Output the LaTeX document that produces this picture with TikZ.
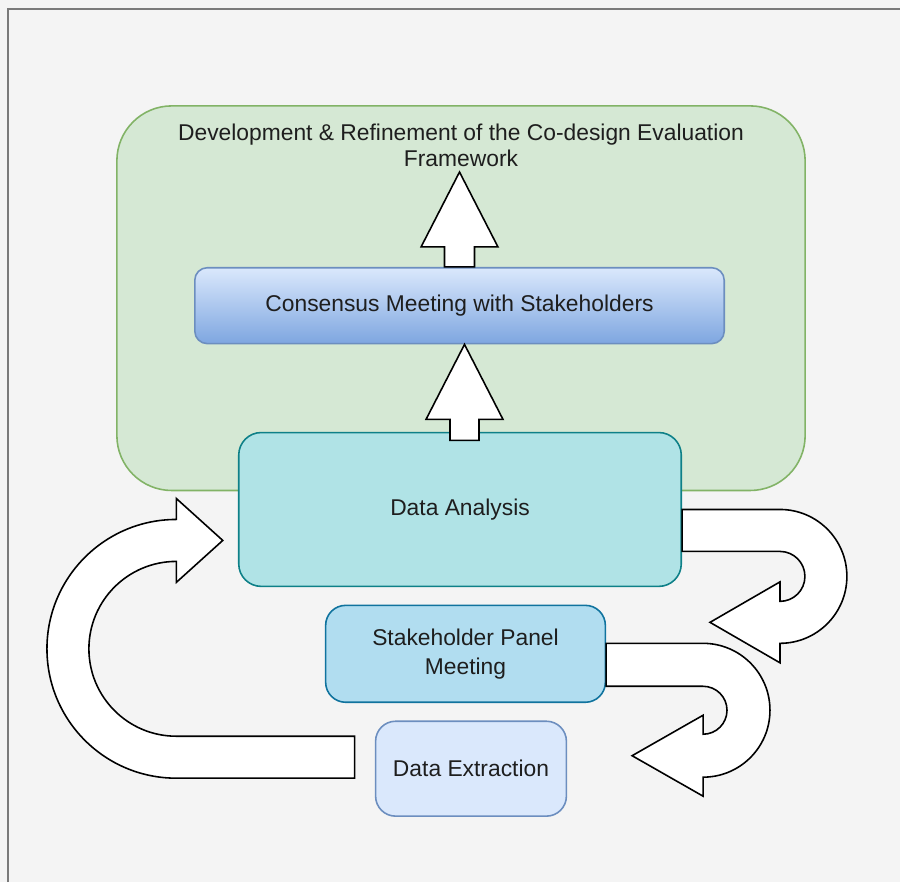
\documentclass[tikz,border=0pt]{standalone}
\usepackage{fontspec}
\setmainfont{Liberation Sans}

\definecolor{canvas}{HTML}{F4F4F4}
\definecolor{edge}{HTML}{7A7A7A}
\definecolor{txt}{HTML}{1E1E1E}
\definecolor{framefill}{HTML}{D5E8D4}
\definecolor{frameline}{HTML}{82B366}
\definecolor{constop}{HTML}{DAE8FC}
\definecolor{consbottom}{HTML}{7EA6E0}
\definecolor{consline}{HTML}{6C8EBF}
\definecolor{analysisfill}{HTML}{B0E3E6}
\definecolor{analysisline}{HTML}{0E8088}
\definecolor{panelfill}{HTML}{B1DDF0}
\definecolor{panelline}{HTML}{10739E}
\definecolor{extractfill}{HTML}{DAE8FC}

\begin{document}
\begin{tikzpicture}[
    every node/.style={font=\fontsize{13}{14.7}\selectfont, text=txt},
    stage/.style={draw, line width=0.9pt, rounded corners=0.45cm, inner sep=0pt, align=center},
    blockarrow/.style={draw=black, fill=white, line width=0.9pt, line join=miter}
  ]
    % canvas and its edge
    \fill[canvas] (0,0) rectangle (18.02,-17.66);
    \draw[edge, line width=1.1pt] (0.16,-17.66) -- (0.16,-0.18) -- (18.02,-0.18);
    % framework panel
    \node[stage, draw=frameline, fill=framefill, rounded corners=1.1cm,
          minimum width=13.78cm, minimum height=7.7cm] (frame) at (9.23,-5.97) {};
    \node[anchor=north, align=center, inner sep=0pt] (title) at ([yshift=-0.38cm]frame.north)
      {Development \& Refinement of the Co-design Evaluation\\Framework};
    % consensus meeting
    \node[stage, draw=consline, top color=constop, bottom color=consbottom, rounded corners=0.25cm,
          minimum width=10.6cm, minimum height=1.52cm] (consensus) at (9.2,-6.12)
      {Consensus Meeting with Stakeholders};
    \draw[blockarrow] ([xshift=-3mm]consensus.north) -- ++(0,0.4) -- ++(-0.47,0) -- ++(0.77,1.5)
      -- ++(0.77,-1.5) -- ++(-0.47,0) -- ++(0,-0.4) -- cycle;
    % data analysis
    \node[stage, draw=analysisline, fill=analysisfill,
          minimum width=8.86cm, minimum height=3.08cm] (analysis) at (9.21,-10.2) {Data Analysis};
    \draw[blockarrow] ([xshift=1mm]consensus.south) -- ++(-0.77,-1.5) -- ++(0.48,0) -- ++(0,-0.42)
      -- ++(0.58,0) -- ++(0,0.42) -- ++(0.48,0) -- cycle;
    % panel and extraction
    \node[stage, draw=panelline, fill=panelfill, rounded corners=0.4cm,
          font=\fontsize{13}{16.4}\selectfont,
          minimum width=5.6cm, minimum height=1.94cm] (panel) at (9.32,-13.09)
      {Stakeholder Panel\\Meeting};
    \node[stage, draw=consline, fill=extractfill, rounded corners=0.4cm,
          minimum width=3.82cm, minimum height=1.9cm] (extraction) at (9.43,-15.39) {Data Extraction};
    % u-turn arrows on the right
    \draw[blockarrow] (analysis.east) -- ++(1.96,0) arc[start angle=90,end angle=-90,radius=1.34]
      -- ++(0,-0.39) -- ++(-1.4,0.81) -- ++(1.4,0.81) -- ++(0,-0.39)
      arc[start angle=-90,end angle=90,radius=0.5] -- ++(-1.96,0) -- cycle;
    \draw[blockarrow] ([yshift=2.1mm]panel.east) -- ++(1.94,0) arc[start angle=90,end angle=-90,radius=1.34]
      -- ++(0,-0.38) -- ++(-1.42,0.81) -- ++(1.42,0.81) -- ++(0,-0.38)
      arc[start angle=-90,end angle=90,radius=0.48] -- ++(-1.94,0) -- cycle;
    % loop back on the left
    \coordinate (loopfoot) at (7.1,-14.74);
    \draw[blockarrow] (loopfoot) -- ++(-3.57,0) arc[start angle=270,end angle=90,radius=1.75]
      -- ++(0,-0.42) -- ++(0.93,0.84) -- ++(-0.93,0.84) -- ++(0,-0.42)
      arc[start angle=90,end angle=270,radius=2.59] -- ++(3.57,0) -- cycle;
\end{tikzpicture}
\end{document}
